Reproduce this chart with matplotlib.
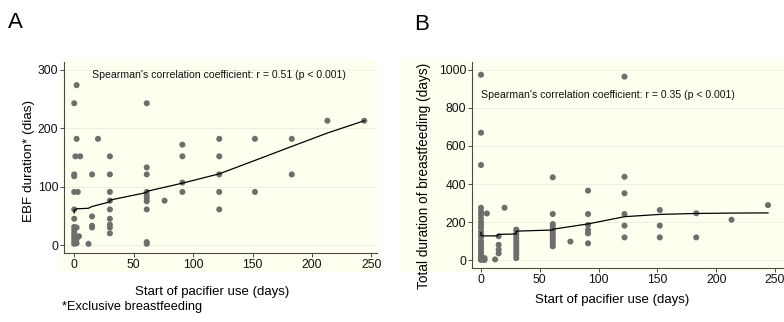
import matplotlib
matplotlib.use("Agg")
import matplotlib.pyplot as plt
from matplotlib.patches import Rectangle

plt.rcParams['font.family'] = ['Liberation Sans', 'DejaVu Sans']

# ---------------- data: panel A (EBF duration) ----------------
a_x = [0, 0, 0, 0, 0, 0, 0, 0, 0, 0, 0, 0, 0,
       2, 2, 1, 3, 2, 2, 2,
       5, 4, 12,
       15, 15, 15, 15, 20,
       30, 30, 30, 30, 30, 30, 30, 30, 30,
       61, 61, 61, 61, 61, 61, 61, 61, 61, 61,
       76, 91, 91, 91, 91,
       122, 122, 122, 122, 122,
       152, 152, 183, 183, 213, 244]
a_y = [243, 121, 118, 91, 61, 45, 31, 26, 21, 16, 11, 6, 2,
       274, 182, 152, 91, 30, 10, 3,
       152, 15, 2,
       121, 49, 33, 30, 182,
       152, 121, 91, 76, 61, 45, 35, 30, 20,
       243, 133, 121, 91, 85, 80, 75, 61, 5, 2,
       76, 172, 152, 107, 91,
       182, 152, 121, 91, 61,
       182, 91, 182, 121, 213, 213]
a_fit_x = [0, 0, 2, 12, 15, 30, 30, 61, 61, 91, 122, 152, 183, 213, 244]
a_fit_y = [55, 60, 62, 63, 66, 74, 77, 90, 92, 106, 122, 145, 169, 192, 213]

# ---------------- data: panel B (total breastfeeding) ----------------
b_x = [0, 0, 0,
       0, 0, 0, 0, 0, 0, 0, 0, 0, 0, 0, 0, 0, 0, 0, 0, 0, 0, 0,
       5, 3, 3, 12,
       15, 15, 15, 15, 20,
       30, 30, 30, 30, 30, 30, 30, 30, 30, 30, 30,
       61, 61, 61, 61, 61, 61, 61, 61, 61, 61, 61, 61,
       76,
       91, 91, 91, 91, 91, 91,
       122, 122, 122, 122, 122, 122,
       152, 152, 152, 183, 183, 213, 244]
b_y = [975, 670, 500,
       275, 255, 240, 220, 200, 185, 170, 150, 135, 120, 100, 90, 75, 60, 45, 30, 15, 5, 0,
       245, 10, 0, 3,
       125, 80, 55, 35, 275,
       160, 145, 130, 115, 100, 85, 70, 55, 40, 25, 10,
       435, 242, 189, 175, 160, 148, 135, 123, 110, 97, 84, 72,
       97,
       365, 242, 184, 158, 140, 88,
       965, 438, 351, 242, 181, 119,
       263, 181, 119, 246, 119, 212, 289]
b_fit_x = [0, 0, 2, 14, 15, 30, 30, 61, 61, 91, 122, 152, 183, 213, 244]
b_fit_y = [145, 128, 127, 127, 135, 137, 152, 158, 162, 190, 228, 240, 245, 247, 248]

a_yticks = [0, 100, 200, 300]
b_yticks = [0, 200, 400, 600, 800, 1000]
xticks = [0, 50, 100, 150, 200, 250]

W, H = 784, 322
IVORY = '#fffff0'
PT_COL = '#6e6e6e'
AX_COL = '#4a4a4a'
GRID_COL = '#ececdf'
TICK_FS = 8.8
LAB_FS = 9.5
NOTE_FS = 7.6

fig = plt.figure(figsize=(W / 100, H / 100), dpi=100)
fig.patch.set_facecolor('white')

def px_rect(x0, y0, x1, y1):
    return Rectangle((x0 / W, 1 - y1 / H), (x1 - x0) / W, (y1 - y0) / H,
                     transform=fig.transFigure, facecolor=IVORY,
                     edgecolor='none', zorder=-10)

fig.patches.append(px_rect(62, 60, 377, 272))
fig.patches.append(px_rect(400, 60, 784, 272))

def make_ax(l, t, r, b):
    return fig.add_axes([l / W, 1 - b / H, (r - l) / W, (b - t) / H])

axA = make_ax(64, 62, 377, 253)
axB = make_ax(472, 62, 784, 268)

def style(ax, yticks):
    ax.set_facecolor('none')
    for s in ['top', 'right']:
        ax.spines[s].set_visible(False)
    for s in ['left', 'bottom']:
        ax.spines[s].set_color(AX_COL)
        ax.spines[s].set_linewidth(0.8)
    ax.tick_params(axis='both', direction='out', length=3.2, width=0.7,
                   color=AX_COL, labelsize=TICK_FS, pad=1.0, labelcolor='#111111')
    ax.set_xticks(xticks)
    ax.set_yticks(yticks)
    for yt in yticks:
        ax.axhline(yt, color=GRID_COL, lw=0.6, zorder=0)

# Panel A
style(axA, a_yticks)
axA.scatter(a_x, a_y, s=19, color=PT_COL, edgecolors='none', zorder=3)
axA.plot(a_fit_x, a_fit_y, color='black', lw=0.9, zorder=4)
axA.set_xlim(-8.6, 254.7)
axA.set_ylim(-13.7, 313.7)
axA.text(14.9, 291, "Spearman's correlation coefficient: r = 0.51 (p < 0.001)",
         fontsize=NOTE_FS, va='center', ha='left', color='#111111')

# Panel B
style(axB, b_yticks)
axB.scatter(b_x, b_y, s=19, color=PT_COL, edgecolors='none', zorder=3)
axB.plot(b_fit_x, b_fit_y, color='black', lw=0.9, zorder=4)
axB.set_xlim(-7.65, 257.6)
axB.set_ylim(-42, 1042)
axB.text(0, 868, "Spearman's correlation coefficient: r = 0.35 (p < 0.001)",
         fontsize=NOTE_FS, va='center', ha='left', color='#111111')

# Axis labels (figure pixel positions)
def ftext(x, y, s, **kw):
    fig.text(x / W, 1 - y / H, s, **kw)

ftext(212.5, 292, "Start of pacifier use (days)", fontsize=LAB_FS, ha='center', va='center')
ftext(612.5, 300, "Start of pacifier use (days)", fontsize=LAB_FS, ha='center', va='center')
ftext(29, 161, "EBF duration* (dias)", fontsize=9.7, ha='center', va='center', rotation=90)
ftext(424, 176, "Total duration of breastfeeding (days)", fontsize=9.8, ha='center', va='center', rotation=90)
ftext(62, 307, "*Exclusive breastfeeding", fontsize=9.2, ha='left', va='center')
ftext(8, 23, "A", fontsize=16, ha='left', va='center')
ftext(414, 24, "B", fontsize=16, ha='left', va='center')

fig.savefig('out.png', dpi=100, facecolor='white')
